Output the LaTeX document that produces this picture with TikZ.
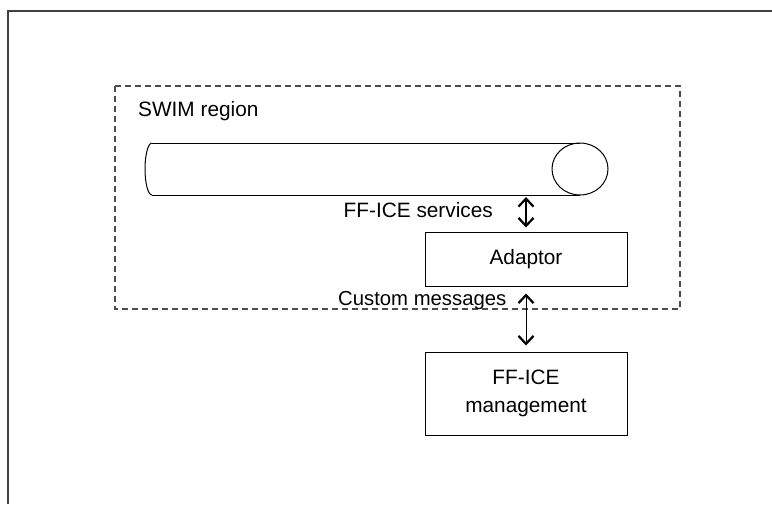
\documentclass[tikz,border=0pt]{standalone}
\usepackage{fontspec}
\setmainfont{Liberation Sans}
\usetikzlibrary{arrows.meta}
\begin{document}
\begin{tikzpicture}[x=1pt,y=-1pt,
  frame/.style={draw=black!75, line width=1.6pt},
  region/.style={draw=black!70, line width=1.2pt, dash pattern=on 6pt off 4pt},
  box/.style={draw=black, line width=1pt, minimum width=202pt, inner sep=0pt, align=center},
  lbl/.style={inner sep=0pt, font=\fontsize{20.8}{24}\selectfont},
  pipe/.style={draw=black, line width=1pt},
  dbl/.style={{Straight Barb[length=8pt,width=15pt,line width=2.2pt]}-{Straight Barb[length=8pt,width=15pt,line width=2.2pt]}, line width=1.3pt}
]
\useasboundingbox (0,0) rectangle (772,504);
% outer frame
\draw[frame] (8,504) -- (8,11) -- (772,11);
% SWIM region
\draw[region] (115,86) rectangle (680,309);
\node[lbl, anchor=base west] (swim) at (138,116) {SWIM region};
% pipe (cylinder)
\draw[pipe] (152,143) -- (580,143);
\draw[pipe] (152,195) -- (580,195);
\draw[pipe] (152,195) arc[start angle=90, end angle=270, x radius=7, y radius=26];
\draw[pipe] (580,169) ellipse[x radius=28, y radius=26];
\coordinate (pipebot) at (526,197);
% boxes
\node[box, minimum height=54pt, lbl] (adaptor) at (526,259) {Adaptor};
\node[box, minimum height=83pt, font=\fontsize{20.8}{28}\selectfont] (mgmt) at (526,393.5) {FF-ICE\\management};
% labels
\node[lbl, anchor=base east] (svc) at (493,217) {FF-ICE services};
\node[lbl, anchor=base west, font=\fontsize{20.3}{24}\selectfont] (cust) at (338,305) {Custom messages};
% arrows
\draw[dbl, shorten >=4pt] (pipebot) -- (adaptor.north);
\draw[dbl, line width=1pt, shorten <=7pt, shorten >=6pt] (adaptor.south) -- (mgmt.north);
\end{tikzpicture}
\end{document}
